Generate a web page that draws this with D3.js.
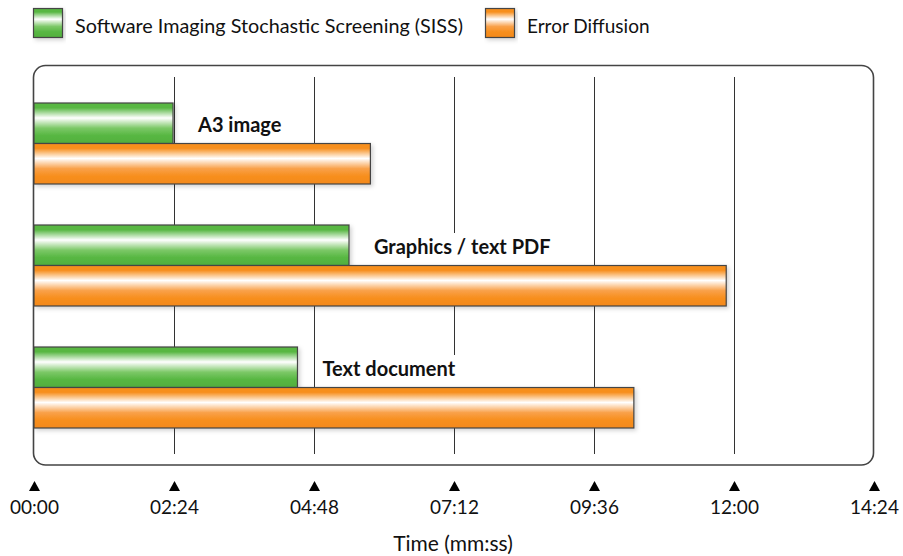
<!DOCTYPE html>
<html>
<head>
<meta charset="utf-8">
<script src="https://cdn.jsdelivr.net/npm/d3@7"></script>
<style>
  html, body { margin: 0; padding: 0; background: #fff; }
  svg { display: block; font-family: Lato, "Open Sans", sans-serif; }
</style>
</head>
<body>
<svg id="chart" width="903" height="556"></svg>
<script>
// ---- data ----
const categories = ["A3 image", "Graphics / text PDF", "Text document"];
const seriesNames = ["Software Imaging Stochastic Screening (SISS)", "Error Diffusion"];
const sissSeconds = [143, 324, 271];
const errorDiffusionSeconds = [346, 712, 617];
const tickValues = [0, 144, 288, 432, 576, 720, 864];
const tickLabels = ["00:00", "02:24", "04:48", "07:12", "09:36", "12:00", "14:24"];
const axisTitle = "Time (mm:ss)";

const svg = d3.select("#chart");
const defs = svg.append("defs");

// gradients
function makeGrad(id, base, light, dark) {
  const g = defs.append("linearGradient").attr("id", id)
    .attr("x1", 0).attr("y1", 0).attr("x2", 0).attr("y2", 1);
  [[0, base], [0.12, base], [0.37, "#ffffff"], [0.62, light], [0.8, base], [1, dark]]
    .forEach(([o, c]) => g.append("stop").attr("offset", o).attr("stop-color", c));
}
makeGrad("gGreen", "#58b743", "#7cc867", "#52b03e");
makeGrad("gOrange", "#f78f1e", "#f9a14a", "#f38919");

const shadow = defs.append("filter").attr("id", "shadow")
  .attr("x", "-5%").attr("y", "-20%").attr("width", "115%").attr("height", "150%");
shadow.append("feDropShadow").attr("dx", 2).attr("dy", 2).attr("stdDeviation", 2)
  .attr("flood-color", "#000").attr("flood-opacity", 0.18);

// scales
const x = d3.scaleLinear().domain([0, 864]).range([34, 874]);
const y = d3.scaleBand().domain(categories).range([82, 448]);
const sub = d3.scaleBand().domain(["siss", "ed"]).range([21, 102]);
const fills = { siss: "url(#gGreen)", ed: "url(#gOrange)" };

// frame
svg.append("rect")
  .attr("x", 33.5).attr("y", 65.5).attr("width", 840).attr("height", 399.5)
  .attr("rx", 12).attr("ry", 12)
  .attr("fill", "#fff").attr("stroke", "#444").attr("stroke-width", 1.6);

// gridlines
svg.append("g").selectAll("line")
  .data(tickValues.slice(1, -1))
  .join("line")
  .attr("x1", d => Math.round(x(d)) + 0.5).attr("x2", d => Math.round(x(d)) + 0.5)
  .attr("y1", 77).attr("y2", 454)
  .attr("stroke", "#333").attr("stroke-width", 1);

// category labels with white background
const rows = categories.map((c, i) => ({ c, siss: sissSeconds[i], ed: errorDiffusionSeconds[i] }));
const labelG = svg.append("g");
rows.forEach(r => {
  const top = y(r.c) + sub("siss");
  const lx = x(r.siss) + 25;
  const bg = labelG.append("rect").attr("fill", "#fff");
  const t = labelG.append("text")
    .attr("x", lx).attr("y", top + 29)
    .attr("font-size", 20).attr("font-weight", 700).attr("fill", "#111")
    .text(r.c);
  const bb = t.node().getBBox();
  bg.attr("x", bb.x - 4).attr("y", top + 8).attr("width", bb.width + 8).attr("height", sub.bandwidth() - 8);
});

// bars
const barG = svg.append("g");
rows.forEach(r => {
  ["siss", "ed"].forEach(k => {
    barG.append("rect")
      .attr("x", x(0)).attr("y", y(r.c) + sub(k))
      .attr("width", x(r[k]) - x(0)).attr("height", sub.bandwidth())
      .attr("fill", fills[k]).attr("stroke", "#444").attr("stroke-width", 1.2)
      .attr("filter", "url(#shadow)");
  });
});

// axis
const axis = d3.axisBottom(x).tickValues(tickValues)
  .tickFormat((d, i) => tickLabels[i]).tickSize(0).tickPadding(0);
const ax = svg.append("g").attr("transform", "translate(0,500)").call(axis);
ax.select(".domain").remove();
ax.selectAll(".tick text")
  .attr("font-family", "Lato, sans-serif").attr("font-size", 19).attr("fill", "#111")
  .attr("dy", null).attr("y", 14);
ax.selectAll(".tick").append("path")
  .attr("d", "M-5.5,-9L5.5,-9L0,-19Z").attr("fill", "#000");

svg.append("text")
  .attr("x", 453).attr("y", 551).attr("text-anchor", "middle")
  .attr("font-size", 21).attr("fill", "#111").text(axisTitle);

// legend
const legend = [
  { name: seriesNames[0], fill: fills.siss, bx: 33, tx: 75, fs: 19.8 },
  { name: seriesNames[1], fill: fills.ed, bx: 485, tx: 527, fs: 19 }
];
legend.forEach(l => {
  svg.append("rect").attr("x", l.bx + 0.5).attr("y", 8.5).attr("width", 29).attr("height", 29)
    .attr("fill", l.fill).attr("stroke", "#444").attr("stroke-width", 1.2)
    .attr("filter", "url(#shadow)");
  svg.append("text").attr("x", l.tx).attr("y", 33).attr("font-size", l.fs)
    .attr("fill", "#111").text(l.name);
});
</script>
</body>
</html>
